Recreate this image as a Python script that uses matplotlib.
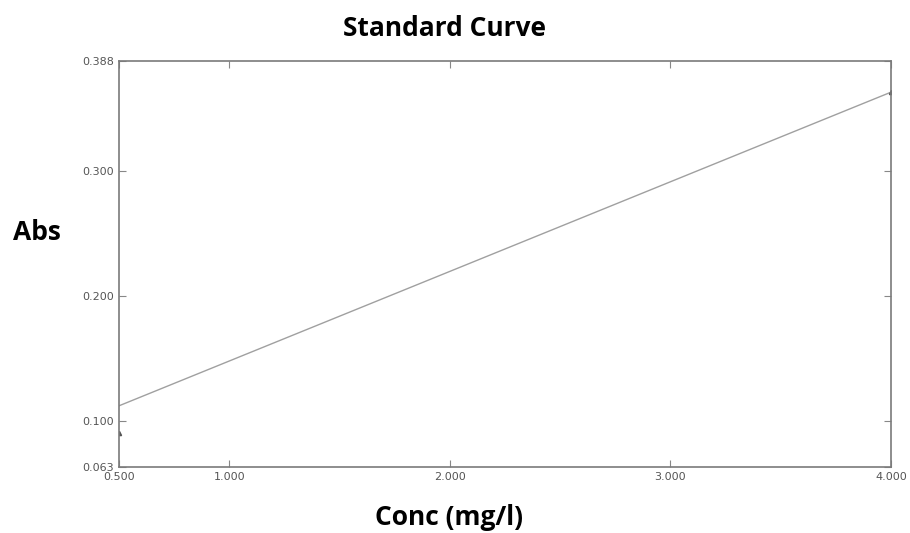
import matplotlib
matplotlib.use("Agg")
import matplotlib.pyplot as plt

# standards (measured points) and the fitted line end points
conc_pts = [0.5, 4.0]
abs_pts = [0.090, 0.363]
fit_x = [0.5, 4.0]
fit_y = [0.112, 0.363]

x_ticks = [0.5, 1.0, 2.0, 3.0, 4.0]
y_ticks = [0.063, 0.100, 0.200, 0.300, 0.388]

fig = plt.figure(figsize=(9.1, 5.33), dpi=100)
ax = fig.add_axes([0.1308, 0.1238, 0.979 - 0.1308, 0.8856 - 0.1238])

ax.plot(fit_x, fit_y, color="#a0a0a0", linewidth=1.0)
ax.plot(conc_pts, abs_pts, linestyle="none", marker="^", markersize=3, color="#555555")

ax.set_xlim(0.5, 4.0)
ax.set_ylim(0.063, 0.388)
ax.set_xticks(x_ticks)
ax.set_yticks(y_ticks)
ax.set_xticklabels([f"{v:.3f}" for v in x_ticks])
ax.set_yticklabels([f"{v:.3f}" for v in y_ticks])
ax.tick_params(direction="in", top=True, right=True, length=5, width=0.8,
               colors="#888888", labelcolor="#555555", labelsize=8)

for s in ax.spines.values():
    s.set_color("#7a7a7a")
    s.set_linewidth(1.2)

fig.text(0.488, 0.947, "Standard Curve", ha="center", va="center",
         fontsize=19, fontweight="bold", family="Open Sans")
fig.text(0.041, 0.563, "Abs", ha="center", va="center",
         fontsize=19, fontweight="bold", family="Open Sans")
fig.text(0.493, 0.03, "Conc (mg/l)", ha="center", va="center",
         fontsize=19, fontweight="bold", family="Open Sans")

fig.savefig("out.png", dpi=100)
